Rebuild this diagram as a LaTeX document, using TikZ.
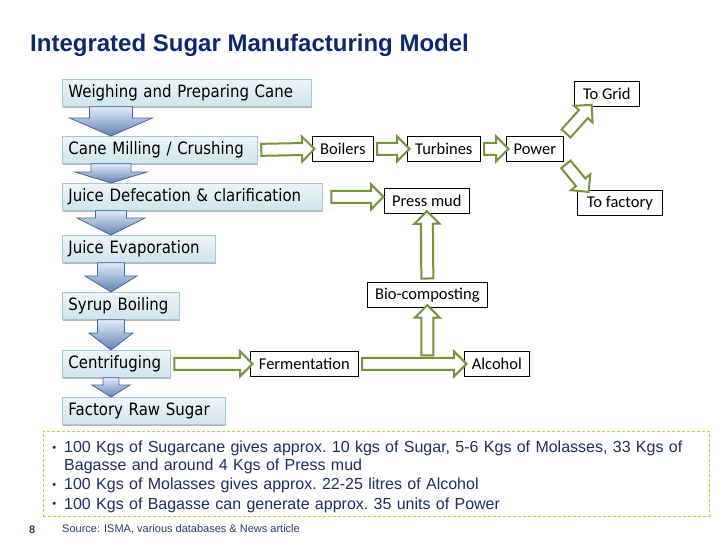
\documentclass[tikz,border=0pt]{standalone}
\usepackage{fontspec}
\setmainfont{Liberation Sans}
\newfontfamily\stagefont{DejaVu Sans}[FakeStretch=0.88]
\newfontfamily\boxfont{Carlito}
\usepackage{tikz}
\usetikzlibrary{arrows.meta,positioning,calc,shapes.arrows,shadows}

\definecolor{titleblue}{RGB}{12,40,110}
\definecolor{noteblue}{RGB}{30,45,100}
\definecolor{srcblue}{RGB}{45,60,105}
\definecolor{olive}{RGB}{119,147,60}
\definecolor{dashgreen}{RGB}{190,205,70}
\definecolor{stagetop}{RGB}{236,246,249}
\definecolor{stagebot}{RGB}{206,228,237}
\definecolor{stageedge}{RGB}{160,200,215}
\definecolor{flowtop}{RGB}{225,234,247}
\definecolor{flowbot}{RGB}{95,130,182}
\definecolor{flowedge}{RGB}{72,102,150}

% hollow green arrow between two points
\newcommand\greenflow[2]{%
  \path let \p1=(#1), \p2=(#2),
    \n1={atan2(\y2-\y1,\x2-\x1)}, \n2={veclen(\x2-\x1,\y2-\y1)} in
    node[hollow, minimum height=\n2-1, rotate=\n1] at ($(\p1)!.5!(\p2)$) {};}
% big blue arrow down the main line
\newcommand\blueflow[5]{%
  \path (#1.south -| axis) coordinate (ft) (#2.north -| axis) coordinate (fb);
  \draw[bigflow] ($(ft)+(-#3,0)$) -- ($(ft)+(#3,0)$) -- ($(fb)+(#3,-#5)$)
    -- ($(fb)+(#4,-#5)$) -- (fb) -- ($(fb)+(-#4,-#5)$) -- ($(fb)+(-#3,-#5)$) -- cycle;}

\begin{document}
\begin{tikzpicture}[
    x=1pt, y=-1pt,
    stage/.style={
      anchor=north west,
      draw=stageedge,
      line width=0.8pt,
      top color=stagetop,
      bottom color=stagebot,
      drop shadow={shadow xshift=0.5pt, shadow yshift=-2pt, fill=black!55, opacity=0.5},
      minimum height=27pt,
      inner xsep=6pt,
      inner ysep=0pt,
      text width=#1,
      align=left,
      font=\stagefont\fontsize{17}{20}\selectfont
    },
    outbox/.style={
      anchor=north west,
      draw,
      line width=0.7pt,
      fill=white,
      minimum width=#1,
      minimum height=25pt,
      inner sep=0pt,
      font=\boxfont\fontsize{16.5}{18}\selectfont
    },
    hollow/.style={
      single arrow,
      draw=olive,
      line width=2pt,
      fill=white,
      inner xsep=0pt,
      inner ysep=5pt,
      minimum width=23pt,
      single arrow head extend=6.5pt,
      single arrow tip angle=90
    },
    bigflow/.style={
      draw=flowedge,
      line width=0.8pt,
      top color=flowtop,
      bottom color=flowbot
    }
  ]
  \fill[white] (0,0) rectangle (728,546);
  \useasboundingbox (0,0) rectangle (728,546);

  \node[anchor=base west, inner sep=0pt, text=titleblue, font=\bfseries\fontsize{24}{27}\selectfont]
    (title) at (30,51) {Integrated Sugar Manufacturing Model};

  % main line
  \node[stage=237pt] (weigh) at (62,79) {Weighing and Preparing Cane};
  \node[stage=183pt] (mill) at (62,136) {Cane Milling / Crushing};
  \node[stage=248pt] (defec) at (62,183) {Juice Defecation \& clarification};
  \node[stage=141pt] (evap) at (62,235) {Juice Evaporation};
  \node[stage=105pt] (syrup) at (62,292) {Syrup Boiling};
  \node[stage=96pt] (centri) at (62,350) {Centrifuging};
  \node[stage=151pt] (raw) at (62,397) {Factory Raw Sugar};
  \coordinate (axis) at (111,0);

  % by-products
  \node[outbox=61pt] (boil) at (312,136) {Boilers};
  \node[outbox=73pt] (turb) at (407,136) {Turbines};
  \node[outbox=57pt] (power) at (506,136) {Power};
  \node[outbox=65pt] (grid) at (574,81) {To Grid};
  \node[outbox=85pt] (fact) at (577,190) {To factory};
  \node[outbox=85pt] (mud) at (384,188) {Press mud};
  \node[outbox=120pt] (compost) at (367,282) {Bio-composting};
  \node[outbox=108pt] (ferm) at (250,351) {Fermentation};
  \node[outbox=65pt] (alc) at (464,351) {Alcohol};

  \blueflow{weigh}{mill}{21.5}{41.5}{18}
  \blueflow{mill}{defec}{20}{36}{11}
  \blueflow{defec}{evap}{15.5}{34}{17}
  \blueflow{evap}{syrup}{13.5}{26}{16}
  \blueflow{syrup}{centri}{13.5}{22}{17}
  \blueflow{centri}{raw}{8}{19}{12}

  \greenflow{mill.east}{boil.west}
  \greenflow{boil.east}{turb.west}
  \greenflow{turb.east}{power.west}
  \greenflow{power.north east}{$(grid.south west)+(16,0)$}
  \greenflow{power.south east}{$(fact.north west)+(10,0)$}
  \greenflow{$(defec.east)+(5,0)$}{$(mud.west |- defec.east)+(-3,0)$}
  \greenflow{compost.north}{mud.south}
  \greenflow{centri.east}{ferm.west}
  \greenflow{$(compost.south |- ferm.east)+(0,-5)$}{compost.south}
  \greenflow{ferm.east}{alc.west}

  % notes
  \node[anchor=north west, draw=dashgreen, line width=0.8pt, dash pattern=on 3pt off 2pt,
    minimum width=666pt, minimum height=85pt, inner sep=0pt] (facts) at (43,431) {};
  \node[anchor=north west, inner sep=0pt, text width=652pt, align=left, text=noteblue,
    font=\fontsize{16}{17.5}\selectfont] (factlist) at (50,435) {%
    \frenchspacing
    \begin{list}{\raisebox{1.5pt}{\fontsize{11}{11}\selectfont\textbullet}}{%
      \leftmargin=14pt \labelwidth=6pt \labelsep=8pt
      \itemsep=2pt \parsep=0pt \topsep=0pt \partopsep=0pt}
    \item 100 Kgs of Sugarcane gives approx. 10 kgs of Sugar, 5-6 Kgs of Molasses, 33 Kgs of\newline
      Bagasse and around 4 Kgs of Press mud
    \item 100 Kgs of Molasses gives approx. 22-25 litres of Alcohol
    \item 100 Kgs of Bagasse can generate approx. 35 units of Power
    \end{list}};
  \node[anchor=west, inner sep=0pt, text=srcblue, font=\bfseries\fontsize{11}{12}\selectfont]
    (page) at (29,530) {8};
  \node[anchor=west, inner sep=0pt, text=srcblue, font=\fontsize{11}{12}\selectfont]
    (source) at (62,529) {Source: ISMA, various databases \& News article};
\end{tikzpicture}
\end{document}
